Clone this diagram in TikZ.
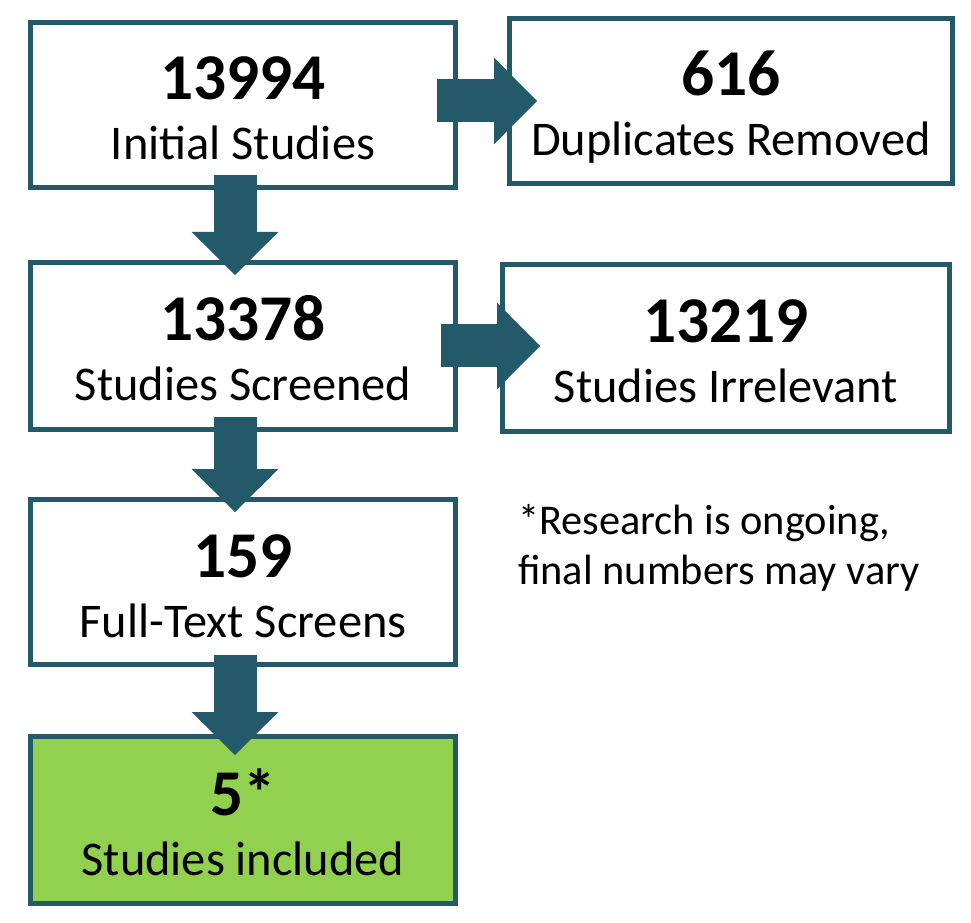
\documentclass[tikz,border=0pt]{standalone}
\usepackage{fontspec}
\setmainfont{Carlito}
\usetikzlibrary{arrows.meta,calc}
\definecolor{flowteal}{RGB}{35,89,104}
\definecolor{flowgreen}{RGB}{146,208,80}
\tikzset{
  stagebox/.style={draw=flowteal, line width=3.4pt, fill=white, minimum width=319pt, minimum height=124pt, align=center, inner sep=0pt, font=\fontsize{36.3}{45}\selectfont},
  blockarrow/.style={flowteal, line width=32.25pt, -{Triangle[length=32.25pt, width=65pt, line width=0pt]}}
}
\newcommand{\stagetext}[2]{\rule{0pt}{46.5pt}{\fontsize{49}{45}\selectfont\bfseries #1}\\#2\rule[-9pt]{0pt}{9pt}}
\begin{document}
\begin{tikzpicture}[x=0.75pt, y=-0.75pt]
    \useasboundingbox (0,0) rectangle (971,923);

    % Screening stages - left column
    \node[stagebox] (initial) at (243,105) {\stagetext{13994}{Initial Studies}};
    \node[stagebox, minimum height=125.6pt] (screened) at (243,346) {\stagetext{13378}{Studies Screened}};
    \node[stagebox] (fulltext) at (243,582) {\stagetext{159}{Full-Text Screens}};
    \node[stagebox, fill=flowgreen, minimum height=125.6pt] (included) at (243,820) {\stagetext{5*}{Studies included}};

    % Excluded studies - right column
    \node[stagebox, minimum width=332.6pt] (duplicates) at (731,101) {\stagetext{616}{Duplicates Removed}};
    \node[stagebox, minimum width=335.6pt, minimum height=125.6pt] (irrelevant) at (726,348) {\stagetext{13219}{Studies Irrelevant}};

    % Down arrows
    \draw[blockarrow] ($(initial.south)+(-8,-15)$) -- ($(screened.north)+(-8,15)$);
    \draw[blockarrow] ($(screened.south)+(-8,-15)$) -- ($(fulltext.north)+(-8,15)$);
    \draw[blockarrow] ($(fulltext.south)+(-8,-12)$) -- ($(included.north)+(-8,21)$);

    % Right arrows
    \draw[blockarrow] ($(initial.east |- duplicates.west)+(-21,0)$) -- ($(duplicates.west)+(30,0)$);
    \draw[blockarrow] ($(screened.east)+(-17,0)$) -- ($(irrelevant.west |- screened.east)+(40,0)$);

    % Note
    \node[anchor=north west, align=left, inner sep=0pt, font=\fontsize{31.8}{37.5}\selectfont] (note) at (518,504) {*Research is ongoing,\\final numbers may vary};
\end{tikzpicture}
\end{document}
